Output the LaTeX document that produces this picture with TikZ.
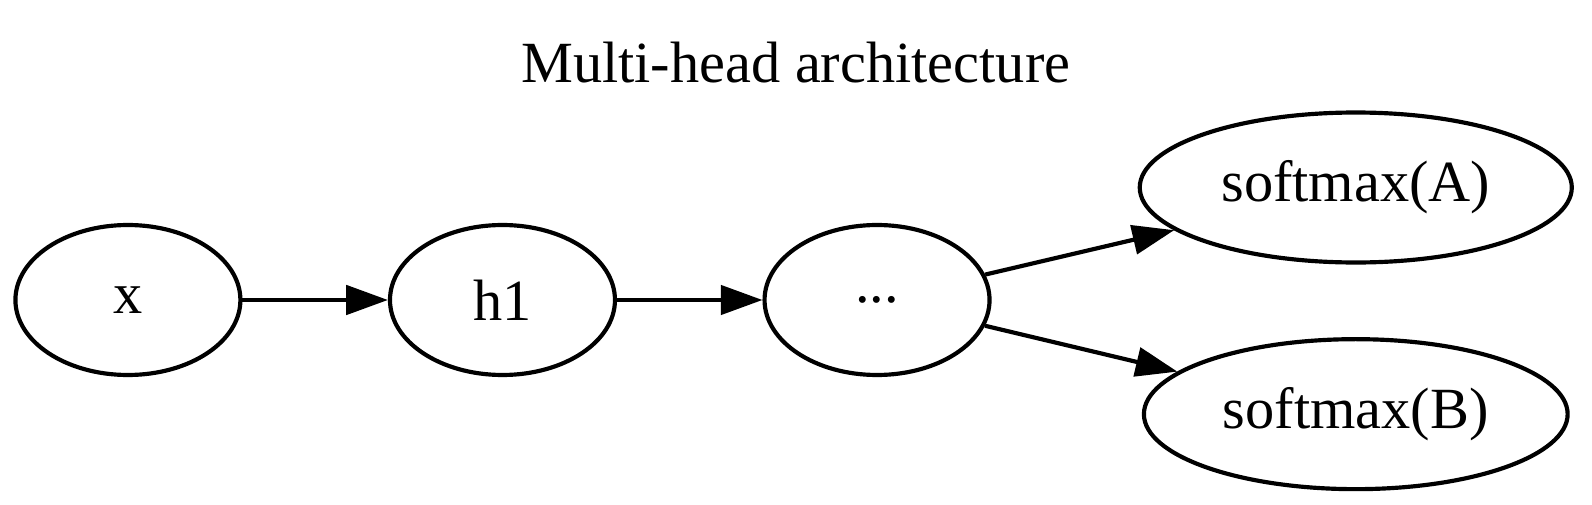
\documentclass[tikz,border=0pt]{standalone}
\usepackage{fontspec}
\setmainfont{Liberation Serif}
\usetikzlibrary{shapes.geometric,arrows.meta}
\begin{document}
\begin{tikzpicture}[x=1pt,y=-1pt,
  gnode/.style={ellipse,draw,line width=1pt,minimum height=36pt,inner sep=0pt,font=\fontsize{14pt}{16pt}\selectfont},
  garrow/.style={line width=1pt,-{Triangle[length=10pt,width=7pt]}}]
\useasboundingbox (0,0) rectangle (382.1,121);
\node[font=\fontsize{14pt}{16pt}\selectfont] (title) at (191,15) {Multi-head architecture};
\node[gnode,minimum width=54pt] (x) at (30.7,72) {x};
\node[gnode,minimum width=54pt] (h1) at (120.6,72) {h1};
\node[gnode,minimum width=54pt] (dots) at (210.5,72) {...};
\node[gnode,minimum width=103.7pt] (A) at (325.4,45) {softmax(A)};
\node[gnode,minimum width=101.7pt] (B) at (325.4,99.4) {softmax(B)};
\draw[garrow] (x) -- (h1);
\draw[garrow] (h1) -- (dots);
\draw[garrow] (dots) -- (A);
\draw[garrow] (dots) -- (B);
\end{tikzpicture}
\end{document}
